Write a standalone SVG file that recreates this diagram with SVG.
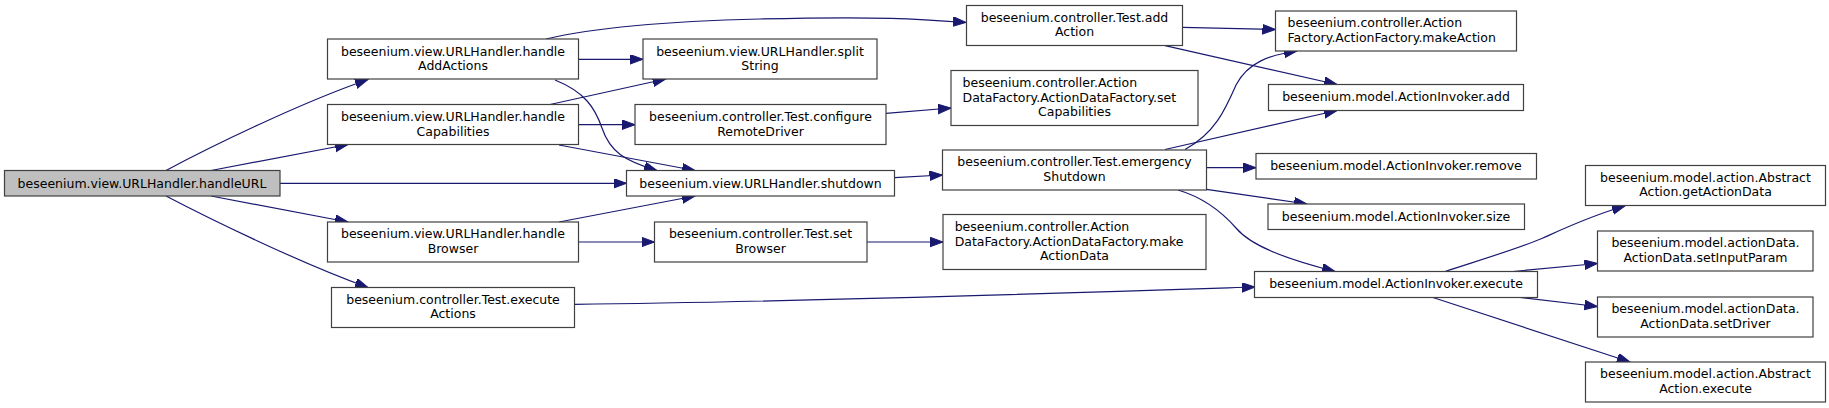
<svg xmlns="http://www.w3.org/2000/svg" width="1829" height="408" viewBox="0 0 1829 408">
<style>
.n rect{fill:#ffffff;stroke:#404040;stroke-width:1.2}
.n.root rect{fill:#bfbfbf}
.n text{font-family:"DejaVu Sans",sans-serif;font-size:12.5px;fill:#000;text-anchor:middle}
.n text.l{text-anchor:start}
#edges path{fill:none;stroke:#191970;stroke-width:1.2;marker-end:url(#arr)}
</style>
<defs>
<marker id="arr" markerUnits="userSpaceOnUse" markerWidth="15" markerHeight="11" refX="13" refY="4.8" orient="auto">
<path d="M0,0 L13,4.8 L0,9.6 z" fill="#191970" stroke="#191970" stroke-width="1"/>
</marker>
</defs>
<rect width="1829" height="408" fill="#ffffff"/>
<g id="edges">
<path d="M166,170.5 C210,147 300,103 368,79.5"/>
<path d="M211,170.5 L348,144.5"/>
<path d="M280,183.3 L626.5,183.3"/>
<path d="M211,196 L348,222"/>
<path d="M166,196 C210,219 300,263 368,287.5"/>
<path d="M546,39 C580,31 640,22 760,19 S920,19 966,22.5"/>
<path d="M578.5,59.3 L643,59.3"/>
<path d="M555,80 C585,92 595,108 602,128 C610,152 625,161 657,170.5"/>
<path d="M550,104.5 L665.7,79"/>
<path d="M578.5,124.7 L635,124.7"/>
<path d="M559,145 L695,170.5"/>
<path d="M559,222 L695,196"/>
<path d="M578.5,242 L654.5,242"/>
<path d="M574.5,304.3 C800,302 1100,292 1255,287"/>
<path d="M1182.5,27.3 L1275.5,29.5"/>
<path d="M1165,45.7 L1337,84.5"/>
<path d="M886,113.3 L951,108"/>
<path d="M894.6,177.7 L942.5,175"/>
<path d="M867,242 L943,242"/>
<path d="M1185,149.5 C1215,133 1225,110 1236,85 C1248,62 1270,55 1297,51"/>
<path d="M1165,149.5 L1337,110.5"/>
<path d="M1206.5,167.7 L1256,167.7"/>
<path d="M1206.5,189.3 L1307,204"/>
<path d="M1178,190 C1205,198 1222,212 1236,228 C1252,247 1290,260 1335,271.5"/>
<path d="M1445,271.5 C1480,260 1520,248 1543,238 C1565,228 1590,216 1625,206"/>
<path d="M1513,271.5 L1597.5,263.5"/>
<path d="M1520,297.5 L1597.5,306.5"/>
<path d="M1433,297.5 L1630,362"/>
</g>
<g id="handleURL" class="n root"><rect x="4.5" y="170.5" width="275.5" height="25.5"/><text x="142" y="187.8">beseenium.view.URLHandler.handleURL</text></g>
<g id="handleAddActions" class="n"><rect x="327.5" y="39" width="251" height="40"/><text x="453" y="55.5">beseenium.view.URLHandler.handle</text><text x="453" y="70">AddActions</text></g>
<g id="handleCapabilities" class="n"><rect x="327.5" y="104.5" width="251" height="40"/><text x="453" y="121">beseenium.view.URLHandler.handle</text><text x="453" y="135.5">Capabilities</text></g>
<g id="handleBrowser" class="n"><rect x="327.5" y="222" width="251" height="40"/><text x="453" y="238.3">beseenium.view.URLHandler.handle</text><text x="453" y="252.8">Browser</text></g>
<g id="executeActions" class="n"><rect x="331.5" y="287.5" width="243" height="40"/><text x="453" y="303.8">beseenium.controller.Test.execute</text><text x="453" y="318.3">Actions</text></g>
<g id="splitString" class="n"><rect x="643" y="39" width="234" height="40"/><text x="760" y="55.5">beseenium.view.URLHandler.split</text><text x="760" y="70">String</text></g>
<g id="configureRemoteDriver" class="n"><rect x="635" y="104.5" width="251" height="40"/><text x="760.5" y="121">beseenium.controller.Test.configure</text><text x="760.5" y="135.5">RemoteDriver</text></g>
<g id="shutdown" class="n"><rect x="626.5" y="170.5" width="268" height="25.5"/><text x="760.5" y="187.8">beseenium.view.URLHandler.shutdown</text></g>
<g id="setBrowser" class="n"><rect x="654.5" y="222" width="212.5" height="40"/><text x="760.5" y="238.3">beseenium.controller.Test.set</text><text x="760.5" y="252.8">Browser</text></g>
<g id="addAction" class="n"><rect x="966.5" y="5.5" width="216" height="40"/><text x="1074.5" y="21.8">beseenium.controller.Test.add</text><text x="1074.5" y="36.3">Action</text></g>
<g id="setCapabilities" class="n"><rect x="951" y="70.5" width="247" height="55"/><text class="l" x="962.5" y="86.8">beseenium.controller.Action</text><text class="l" x="962.5" y="101.5">DataFactory.ActionDataFactory.set</text><text x="1074.5" y="116">Capabilities</text></g>
<g id="emergencyShutdown" class="n"><rect x="942.5" y="150" width="264" height="40"/><text x="1074.5" y="166.3">beseenium.controller.Test.emergency</text><text x="1074.5" y="180.8">Shutdown</text></g>
<g id="makeActionData" class="n"><rect x="943" y="214.5" width="263" height="55"/><text class="l" x="954.7" y="231">beseenium.controller.Action</text><text class="l" x="954.7" y="245.5">DataFactory.ActionDataFactory.make</text><text x="1074.5" y="260">ActionData</text></g>
<g id="makeAction" class="n"><rect x="1275.5" y="11" width="241" height="40"/><text class="l" x="1287.5" y="27.2">beseenium.controller.Action</text><text class="l" x="1287.5" y="41.8">Factory.ActionFactory.makeAction</text></g>
<g id="invokerAdd" class="n"><rect x="1268.5" y="84.5" width="255" height="26"/><text x="1396" y="101.3">beseenium.model.ActionInvoker.add</text></g>
<g id="invokerRemove" class="n"><rect x="1256" y="153.5" width="280.5" height="25.5"/><text x="1396" y="170">beseenium.model.ActionInvoker.remove</text></g>
<g id="invokerSize" class="n"><rect x="1268" y="204" width="256.5" height="25.5"/><text x="1396" y="220.5">beseenium.model.ActionInvoker.size</text></g>
<g id="invokerExecute" class="n"><rect x="1254.5" y="271.5" width="283" height="26"/><text x="1396" y="288.3">beseenium.model.ActionInvoker.execute</text></g>
<g id="getActionData" class="n"><rect x="1585.5" y="165.5" width="240" height="40"/><text x="1705.5" y="181.8">beseenium.model.action.Abstract</text><text x="1705.5" y="196.3">Action.getActionData</text></g>
<g id="setInputParam" class="n"><rect x="1597.5" y="231" width="215.5" height="40"/><text x="1705.5" y="247.3">beseenium.model.actionData.</text><text x="1705.5" y="261.8">ActionData.setInputParam</text></g>
<g id="setDriver" class="n"><rect x="1597.5" y="297" width="215.5" height="40"/><text x="1705.5" y="313.3">beseenium.model.actionData.</text><text x="1705.5" y="327.8">ActionData.setDriver</text></g>
<g id="abstractExecute" class="n"><rect x="1585.5" y="362" width="240" height="40"/><text x="1705.5" y="378.3">beseenium.model.action.Abstract</text><text x="1705.5" y="392.8">Action.execute</text></g>
</svg>
